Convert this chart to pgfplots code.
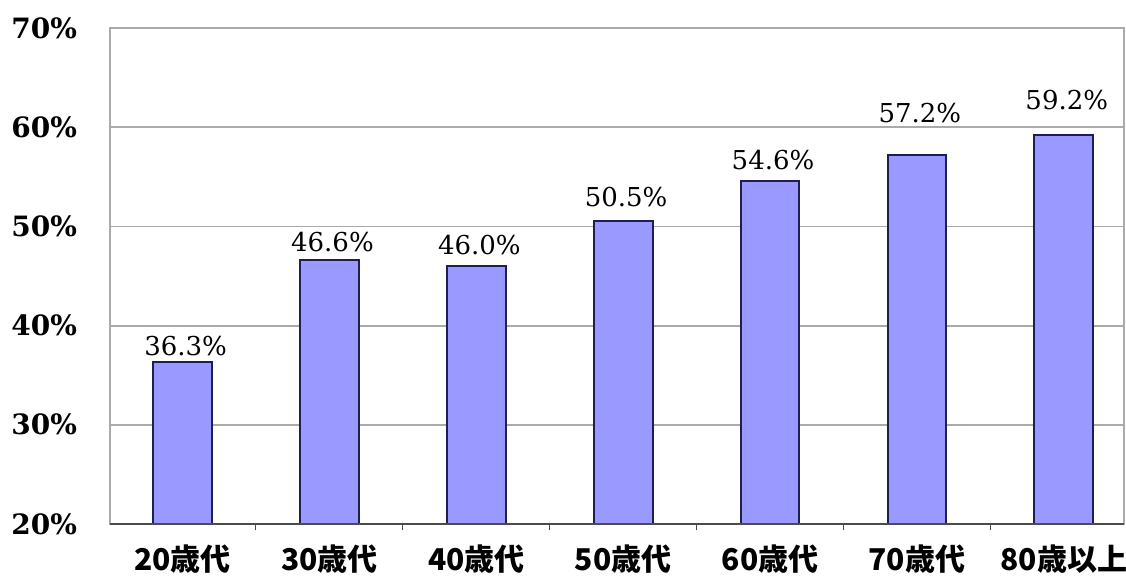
\documentclass[border=0pt]{standalone}
\usepackage{pgfplots}
\usepackage{pgfplotstable}
\pgfplotsset{compat=1.18}
\usepackage{fontspec}
\setmainfont{DejaVu Serif}
\newfontfamily\jp{Noto Sans CJK JP}

\definecolor{barfill}{RGB}{153,153,255}
\definecolor{baredge}{RGB}{30,30,80}
\definecolor{gridc}{RGB}{170,170,170}

\pgfplotstableread{
x  y    dy
0  36.3 3.5
1  46.6 4.2
2  46.0 6
3  50.5 7.3
4  54.6 5.8
5  57.2 16
6  59.2 13
}\agedata

\begin{document}
\begin{tikzpicture}
\useasboundingbox (-55pt,-25.5pt) rectangle (508pt,262pt);
\begin{axis}[
    scale only axis,
    width=507pt,
    height=248pt,
    ymin=20, ymax=70,
    xmin=-0.494, xmax=6.41,
    ytick={20,30,...,70},
    yticklabels={20\%,30\%,40\%,50\%,60\%,70\%},
    yticklabel style={font=\fontsize{14}{16}\selectfont\bfseries, xshift=-13pt},
    xtick={0,...,6},
    xticklabels={20歳代,30歳代,40歳代,50歳代,60歳代,70歳代,80歳以上},
    xticklabel style={font=\jp\bfseries\fontsize{15}{17}\selectfont, yshift=-7pt},
    xtick pos=bottom,
    major tick length=0pt,
    extra x ticks={0.5,1.5,...,5.5},
    extra x tick labels={},
    extra x tick style={major tick length=3pt, tick style={black!70, line width=0.5pt}, grid=none},
    ymajorgrids=true,
    grid style={gridc, line width=0.9pt},
    axis line style={gridc, line width=0.9pt},
    ybar,
    bar width=0.4,
    nodes near coords={\pgfmathprintnumber[fixed,fixed zerofill,precision=1]{\pgfplotspointmeta}\%},
    /pgf/number format/assume math mode=true,
    visualization depends on={\thisrow{dy} \as \dy},
    nodes near coords style={font=\fontsize{13}{15}\selectfont, anchor=base, yshift=\dy pt, xshift=1.5pt, inner sep=0pt},
    clip=false,
]
\addplot[fill=barfill, draw=baredge, line width=1pt] table[x=x, y=y] {\agedata};
\end{axis}
\draw[black!70, line width=0.6pt] (0,0) -- (507pt,0);
\end{tikzpicture}
\end{document}
